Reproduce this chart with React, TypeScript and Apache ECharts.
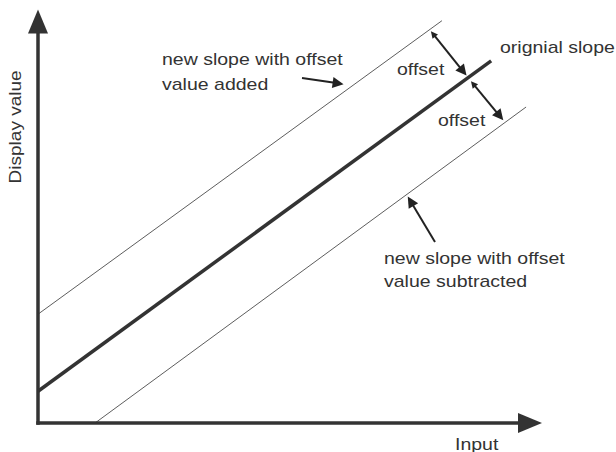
import React, { useEffect, useRef } from "react";
import * as echarts from "echarts";

// Slopes (data units: x 0..100 input, y 0..100 display value)
const originalSlope: number[][] = [[0, 7.9], [92.1, 90.2]];
const addedSlope: number[][] = [[0, 27.1], [82.1, 100.2]];
const subtractedSlope: number[][] = [[11.6, 0], [99.2, 78.7]];

// Annotation arrows [tail/start, end]
const offsetArrowUpper: number[][] = [[80.3, 96.9], [86.4, 87.6]];
const offsetArrowLower: number[][] = [[88.45, 84.46], [93.86, 76.44]];
const addedPointer: number[][] = [[53.66, 85.93], [61.0, 84.6]];
const subtractedPointer: number[][] = [[80.69, 45.08], [75.73, 55.22]];

// Texts
const axisNames = { x: "Input", y: "Display value" };
const labels = {
  added1: "new slope with offset",
  added2: "value added",
  original: "orignial slope",
  offset: "offset",
  sub1: "new slope with offset",
  sub2: "value subtracted",
};

const INK = "#333";
const FONT = "Liberation Sans, Arial, Helvetica, sans-serif";

function txt(text: string, x: number, y: number, extra: any = {}) {
  return {
    type: "text",
    x,
    y,
    scaleX: 1.22,
    ...extra,
    style: {
      text,
      fontSize: 16,
      fontFamily: FONT,
      fill: INK,
      align: "left",
      verticalAlign: "middle",
    },
  };
}

export default function App() {
  const ref = useRef<HTMLDivElement>(null);
  useEffect(() => {
    document.body.style.margin = "0";
    const chart = echarts.init(ref.current!, undefined, { renderer: "svg" });
    const axisCommon = {
      type: "value",
      min: 0,
      max: 100,
      axisLabel: { show: false },
      axisTick: { show: false },
      splitLine: { show: false },
      axisLine: {
        show: true,
        onZero: false,
        symbol: ["none", "triangle"],
        symbolSize: [20, 24],
        lineStyle: { color: INK, width: 3.5, cap: "square" },
      },
    };
    const slope = (data: number[][], width: number) => ({
      type: "line",
      data,
      showSymbol: false,
      symbol: "none",
      clip: false,
      silent: true,
      lineStyle: { color: INK, width },
    });
    const arrows = (coords: number[][], both: boolean) => ({
      type: "lines",
      coordinateSystem: "cartesian2d",
      silent: true,
      symbol: [both ? "triangle" : "none", "triangle"],
      symbolSize: [7, 11],
      lineStyle: { color: "#222", width: 2, opacity: 1, curveness: 0 },
      data: [{ coords }],
    });
    chart.setOption({
      animation: false,
      backgroundColor: "#fff",
      grid: { left: 38, right: 86, top: 21.5, bottom: 29 },
      xAxis: axisCommon,
      yAxis: axisCommon,
      series: [
        slope(addedSlope, 0.8),
        slope(subtractedSlope, 0.8),
        slope(originalSlope, 3.5),
        arrows(offsetArrowUpper, true),
        arrows(offsetArrowLower, true),
        arrows(addedPointer, false),
        arrows(subtractedPointer, false),
      ],
      graphic: [
        txt(labels.added1, 162, 60),
        txt(labels.added2, 162, 84.5),
        txt(labels.original, 500, 48),
        txt(labels.offset, 397, 69.5),
        txt(labels.offset, 438, 120.5),
        txt(labels.sub1, 384, 258.5),
        txt(labels.sub2, 384, 282),
        txt(axisNames.x, 455, 444.5),
        txt(axisNames.y, 16, 183.5, { rotation: Math.PI / 2, scaleX: 1.19 }),
      ],
    });
    return () => chart.dispose();
  }, []);
  return (
    <div
      ref={ref}
      style={{ position: "fixed", left: 0, top: 0, width: 616, height: 452 }}
    />
  );
}
